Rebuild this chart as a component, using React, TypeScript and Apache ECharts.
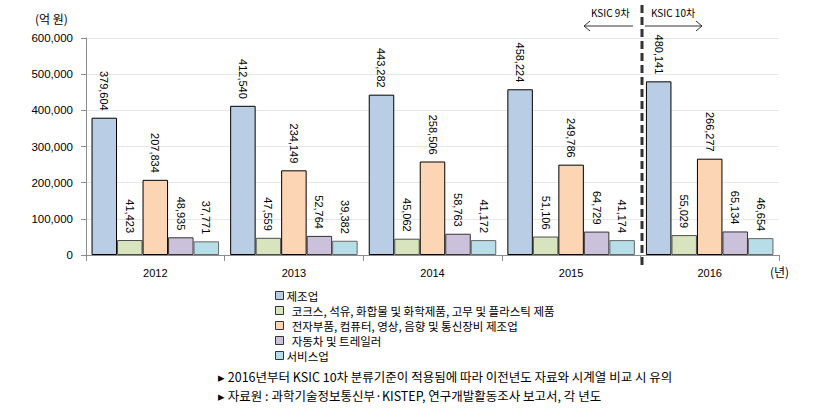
import React, { useEffect, useRef } from "react";
import * as echarts from "echarts";

const years = ["2012", "2013", "2014", "2015", "2016"];
const seriesNames = [
  "제조업",
  "  코크스, 석유, 화합물 및 화학제품, 고무 및 플라스틱 제품",
  "  전자부품, 컴퓨터, 영상, 음향 및 통신장비 제조업",
  "  자동차 및 트레일러",
  "서비스업",
];
const manufacturing = [379604, 412540, 443282, 458224, 480141];
const chemicals = [41423, 47559, 45062, 51106, 55029];
const electronics = [207834, 234149, 258506, 249786, 266277];
const automobiles = [48935, 52764, 58763, 64729, 65134];
const services = [37771, 39382, 41172, 41174, 46654];
const yTicks = [0, 100000, 200000, 300000, 400000, 500000, 600000];

const colors = ["#B9CDE5", "#D7E4BD", "#FCD5B5", "#CCC1DA", "#B7DEE8"];
const borders = ["#000000", "#4d4d4d", "#000000", "#333333", "#666666"];

const fmt = (v: number) => v.toLocaleString("en-US");

export default function App() {
  const ref = useRef<HTMLDivElement>(null);
  useEffect(() => {
    if (!ref.current) return;
    const chart = echarts.init(ref.current, null, { renderer: "svg" });
    const values = [manufacturing, chemicals, electronics, automobiles, services];
    const font = "'Liberation Sans', Arial, sans-serif";
    const kfont = "'Noto Sans CJK KR', sans-serif";
    chart.setOption({
      animation: false,
      backgroundColor: "#ffffff",
      grid: { left: 86, right: 41, top: 38, bottom: 156, containLabel: false },
      legend: {
        orient: "vertical",
        left: 270,
        top: 283,
        itemWidth: 8,
        itemHeight: 8,
        itemGap: 0,
        icon: "rect",
        itemStyle: { borderColor: "#333", borderWidth: 1 },
        textStyle: { fontFamily: kfont, fontSize: 11.5, lineHeight: 15, color: "#000", padding: [0, 0, 0, -2] },
        data: seriesNames,
      },
      xAxis: {
        type: "category",
        data: years,
        axisLine: { lineStyle: { color: "#8c8c8c" } },
        axisTick: { show: true, length: 6, lineStyle: { color: "#8c8c8c" } },
        axisLabel: { fontFamily: font, fontSize: 11, color: "#000", margin: 12 },
      },
      yAxis: {
        type: "value",
        min: 0,
        max: yTicks[yTicks.length - 1],
        interval: yTicks[1] - yTicks[0],
        axisLine: { show: true, lineStyle: { color: "#8c8c8c" } },
        axisTick: { show: true, length: 5, lineStyle: { color: "#8c8c8c" } },
        splitLine: { lineStyle: { color: "#e8e8e8" } },
        axisLabel: {
          fontFamily: font,
          fontSize: 11.5,
          color: "#000",
          margin: 13,
          formatter: (v: number) => fmt(v),
        },
      },
      series: values.map((arr, i) => ({
        name: seriesNames[i],
        type: "bar",
        data: arr,
        barGap: "0%",
        barCategoryGap: "8%",
        itemStyle: { color: colors[i], borderColor: borders[i], borderWidth: 1 },
        label: {
          show: true,
          position: "top",
          rotate: -90,
          align: "right",
          verticalAlign: "middle",
          distance: 7,
          fontFamily: font,
          fontSize: 11,
          color: "#000",
          formatter: (p: any) => fmt(p.value),
        },
      })),
      graphic: [
        { type: "text", left: 35, top: 12, style: { text: "(억 원)", fontFamily: kfont, fontSize: 12, fill: "#000" } },
        { type: "text", left: 770, top: 265, style: { text: "(년)", fontFamily: kfont, fontSize: 12, fill: "#000" } },
        {
          type: "line",
          shape: { x1: 642, y1: 5, x2: 642, y2: 265 },
          style: { stroke: "#333", lineWidth: 3, lineDash: [8, 4] },
        },
        { type: "text", left: 591, top: 7, style: { text: "KSIC 9차", fontFamily: kfont, fontSize: 10, fill: "#000" } },
        { type: "text", left: 651, top: 7, style: { text: "KSIC 10차", fontFamily: kfont, fontSize: 10, fill: "#000" } },
        { type: "line", shape: { x1: 633, y1: 26, x2: 584, y2: 26 }, style: { stroke: "#333", lineWidth: 1 } },
        { type: "polyline", shape: { points: [[590, 21], [584, 26], [590, 31]] }, style: { stroke: "#333", lineWidth: 1, fill: null } },
        { type: "line", shape: { x1: 645, y1: 26, x2: 702, y2: 26 }, style: { stroke: "#333", lineWidth: 1 } },
        { type: "polyline", shape: { points: [[696, 21], [702, 26], [696, 31]] }, style: { stroke: "#333", lineWidth: 1, fill: null } },
        {
          type: "text",
          left: 218,
          top: 370,
          style: {
            text: "▸ 2016년부터 KSIC 10차 분류기준이 적용됨에 따라 이전년도 자료와 시계열 비교 시 유의",
            fontFamily: kfont,
            fontSize: 12.5,
            fill: "#000",
          },
        },
        {
          type: "text",
          left: 218,
          top: 389,
          style: {
            text: "▸ 자료원 : 과학기술정보통신부·KISTEP, 연구개발활동조사 보고서, 각 년도",
            fontFamily: kfont,
            fontSize: 12.5,
            fill: "#000",
          },
        },
      ],
    });
    return () => chart.dispose();
  }, []);
  return <div ref={ref} style={{ width: 820, height: 411, position: "absolute", left: 0, top: 0 }} />;
}
